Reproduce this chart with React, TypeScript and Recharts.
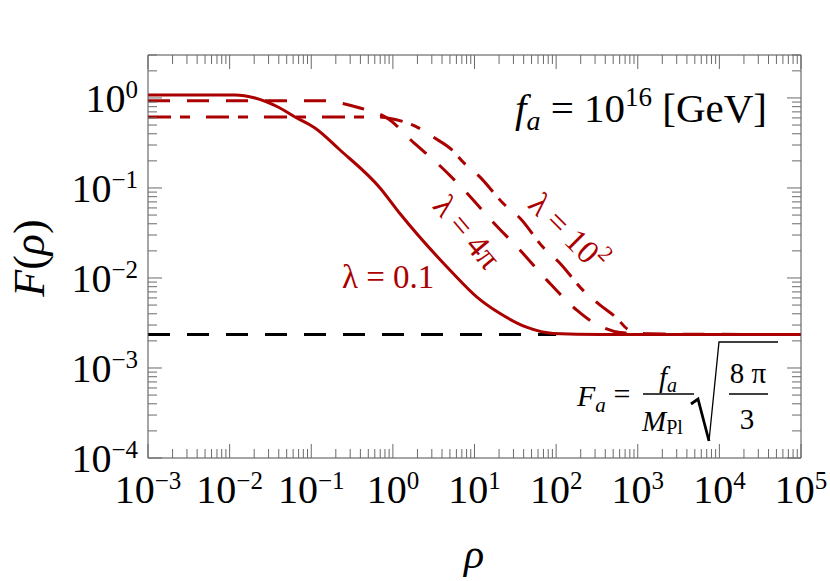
import { Line, LineChart, XAxis, YAxis } from "recharts";

// λ = 0.1 (solid)
const rhoLam01 = [0.001, 0.0116, 0.0205, 0.0391, 0.0633, 0.111, 0.225, 0.7, 1.22, 5.02, 10.8, 20.6, 44.2, 91.9, 346, 100000];
const fLam01 = [1.08, 1.08, 1.0, 0.794, 0.614, 0.463, 0.264, 0.0995, 0.052, 0.0122, 0.0061, 0.00403, 0.00282, 0.00242, 0.00236, 0.00236];

// λ = 4π (long dashes)
const rhoLam4pi = [0.001, 0.1355, 0.225, 0.396, 0.849, 1.87, 3.48, 8.11, 16.9, 36.2, 77.6, 181, 261, 377, 608, 1419, 100000];
const fLam4pi = [0.933, 0.933, 0.88, 0.774, 0.599, 0.308, 0.189, 0.0875, 0.0416, 0.0203, 0.0094, 0.00436, 0.00337, 0.00282, 0.00248, 0.00237, 0.00236];

// λ = 10^2 (dash-dot)
const rhoLam100 = [0.001, 0.7, 0.849, 1.98, 3.11, 5.31, 7.24, 11.7, 22.4, 36.2, 69.3, 112, 214, 346, 559, 742, 1000, 1303, 3311, 100000];
const fLam100 = [0.614, 0.614, 0.6, 0.475, 0.368, 0.264, 0.194, 0.132, 0.0677, 0.046, 0.0219, 0.0145, 0.00728, 0.005, 0.00355, 0.00272, 0.00248, 0.0024, 0.00236, 0.00236];

// F_a = f_a / M_Pl * sqrt(8π/3)
const rhoFa = [0.001, 100];
const fFa = [0.00236, 0.00236];

const xExponents = [-3, -2, -1, 0, 1, 2, 3, 4, 5];
const yExponents = [-4, -3, -2, -1, 0];
const minorSteps = [2, 3, 4, 5, 6, 7, 8, 9];

const RED = "#aa0000";
const FRAME = "#4d4d4d";
const TICK = "#6a6a6a";
const SERIF = "'Liberation Serif', 'Times New Roman', serif";

const zip = (xs: number[], ys: number[]) => xs.map((rho, i) => ({ rho, F: ys[i] }));

const lam01 = zip(rhoLam01, fLam01);
const lam4pi = zip(rhoLam4pi, fLam4pi);
const lam100 = zip(rhoLam100, fLam100);
const faLine = zip(rhoFa, fFa);

function buildTicks(exps: number[], extraTop: number[] = []) {
  const out: number[] = [];
  exps.forEach((e, i) => {
    out.push(Math.pow(10, e));
    if (i < exps.length - 1) minorSteps.forEach((m) => out.push(m * Math.pow(10, e)));
  });
  extraTop.forEach((m) => out.push(m));
  return out;
}

const xTicks = buildTicks(xExponents);
const yTicks = buildTicks(yExponents, [2, 3]);

const isMajor = (v: number) => {
  const l = Math.log10(v);
  return Math.abs(l - Math.round(l)) < 1e-6;
};

const expLabel = (v: number) => {
  const e = Math.round(Math.log10(v));
  return e < 0 ? `\u2212${-e}` : `${e}`;
};

const MAJOR = 14;
const MINOR = 9;

function BottomTick(props: any) {
  const { x, y, payload } = props;
  const major = isMajor(payload.value);
  return (
    <g>
      <line x1={x} x2={x} y1={y} y2={y - (major ? MAJOR : MINOR)} stroke={TICK} />
      {major && (
        <text x={x} y={y + 45} textAnchor="middle" fontFamily={SERIF} fontSize={40} fill="#000">
          10
          <tspan fontSize={25} dy={-14}>{expLabel(payload.value)}</tspan>
        </text>
      )}
    </g>
  );
}

function TopTick(props: any) {
  const { x, y, payload } = props;
  const major = isMajor(payload.value);
  return <line x1={x} x2={x} y1={y} y2={y + (major ? MAJOR : MINOR)} stroke={TICK} />;
}

function LeftTick(props: any) {
  const { x, y, payload } = props;
  const major = isMajor(payload.value);
  return (
    <g>
      <line x1={x} x2={x + (major ? MAJOR : MINOR)} y1={y} y2={y} stroke={TICK} />
      {major && (
        <text x={x - 10} y={y + 14} textAnchor="end" fontFamily={SERIF} fontSize={40} fill="#000">
          10
          <tspan fontSize={25} dy={-14}>{expLabel(payload.value)}</tspan>
        </text>
      )}
    </g>
  );
}

function RightTick(props: any) {
  const { x, y, payload } = props;
  const major = isMajor(payload.value);
  return <line x1={x} x2={x - (major ? MAJOR : MINOR)} y1={y} y2={y} stroke={TICK} />;
}

function Annotations() {
  return (
    <svg
      width={830}
      height={581}
      style={{ position: "absolute", left: 0, top: 0, pointerEvents: "none" }}
      fontFamily={SERIF}
    >
      {/* axis titles */}
      <text x={44} y={258} transform="rotate(-90 44 258)" textAnchor="middle" fontSize={44}>
        <tspan fontStyle="italic">F</tspan>(<tspan fontStyle="italic">ρ</tspan>)
      </text>
      <text x={474} y={568} textAnchor="middle" fontSize={42} fontStyle="italic">
        ρ
      </text>

      {/* f_a = 10^16 [GeV] */}
      <text x={767} y={122} textAnchor="end" fontSize={41}>
        <tspan fontStyle="italic">f</tspan>
        <tspan fontStyle="italic" fontSize={28} dy={8}>a</tspan>
        <tspan dy={-8}> = 10</tspan>
        <tspan fontSize={27} dy={-16}>16</tspan>
        <tspan dy={16}> [GeV]</tspan>
      </text>

      {/* curve labels */}
      <text x={342} y={288} fontSize={33} fill={RED}>
        λ = 0.1
      </text>
      <text x={467} y={232} transform="rotate(50 467 232)" textAnchor="middle" dominantBaseline="central" fontSize={33} fill={RED}>
        λ = 4π
      </text>
      <text x={568} y={232} transform="rotate(45 568 232)" textAnchor="middle" dominantBaseline="central" fontSize={33} fill={RED}>
        λ = 10<tspan fontSize={22} dy={-12}>2</tspan>
      </text>

      {/* F_a formula */}
      <text x={577} y={406} fontSize={30}>
        <tspan fontStyle="italic">F</tspan>
        <tspan fontStyle="italic" fontSize={21} dy={6}>a</tspan>
      </text>
      <text x={622} y={404} textAnchor="middle" fontSize={30}>=</text>
      <text x={668} y={387} textAnchor="middle" fontSize={29}>
        <tspan fontStyle="italic">f</tspan>
        <tspan fontStyle="italic" fontSize={20} dy={5}>a</tspan>
      </text>
      <line x1={643} x2={694} y1={394} y2={394} stroke="#000" strokeWidth={1.3} />
      <text x={642} y={431} fontSize={29}>
        <tspan fontStyle="italic">M</tspan>
        <tspan fontSize={20} dy={3}>Pl</tspan>
      </text>
      <path d="M691 404 L698 399 L709 441" stroke="#000" strokeWidth={2.8} fill="none" />
      <path d="M709 441 L719 342 L778 342" stroke="#000" strokeWidth={1.3} fill="none" />
      <text x={748} y={383} textAnchor="middle" fontSize={29}>
        8 π
      </text>
      <line x1={729} x2={768} y1={394} y2={394} stroke="#000" strokeWidth={1.3} />
      <text x={747} y={429} textAnchor="middle" fontSize={29}>
        3
      </text>
    </svg>
  );
}

export default function App() {
  return (
    <div style={{ position: "absolute", left: 0, top: 0, width: 830, height: 581, background: "#fff" }}>
      <LineChart width={830} height={581} margin={{ top: 54, right: 28, bottom: 0, left: 0 }}>
        <XAxis
          dataKey="rho"
          type="number"
          scale="log"
          domain={[1e-3, 1e5]}
          allowDataOverflow
          ticks={xTicks}
          interval={0}
          height={123}
          tickSize={0}
          tickMargin={0}
          tickLine={false}
          axisLine={{ stroke: FRAME }}
          tick={<BottomTick />}
        />
        <XAxis
          xAxisId="top"
          orientation="top"
          dataKey="rho"
          type="number"
          scale="log"
          domain={[1e-3, 1e5]}
          allowDataOverflow
          ticks={xTicks}
          interval={0}
          height={1}
          tickSize={0}
          tickMargin={0}
          tickLine={false}
          axisLine={{ stroke: FRAME }}
          tick={<TopTick />}
        />
        <YAxis
          type="number"
          scale="log"
          domain={[1e-4, 3]}
          allowDataOverflow
          ticks={yTicks}
          interval={0}
          width={148}
          tickSize={0}
          tickMargin={0}
          tickLine={false}
          axisLine={{ stroke: FRAME }}
          tick={<LeftTick />}
        />
        <YAxis
          yAxisId="right"
          orientation="right"
          type="number"
          scale="log"
          domain={[1e-4, 3]}
          allowDataOverflow
          ticks={yTicks}
          interval={0}
          width={1}
          tickSize={0}
          tickMargin={0}
          tickLine={false}
          axisLine={{ stroke: FRAME }}
          tick={<RightTick />}
        />
        <Line data={faLine} dataKey="F" type="linear" stroke="#000" strokeWidth={3} strokeDasharray="22 17" dot={false} isAnimationActive={false} />
        <Line data={lam100} dataKey="F" type="monotone" stroke={RED} strokeWidth={3} strokeDasharray="23 9 10 16" dot={false} isAnimationActive={false} />
        <Line data={lam4pi} dataKey="F" type="monotone" stroke={RED} strokeWidth={3} strokeDasharray="22 17" dot={false} isAnimationActive={false} />
        <Line data={lam01} dataKey="F" type="monotone" stroke={RED} strokeWidth={3} dot={false} isAnimationActive={false} />
      </LineChart>
      <Annotations />
    </div>
  );
}
